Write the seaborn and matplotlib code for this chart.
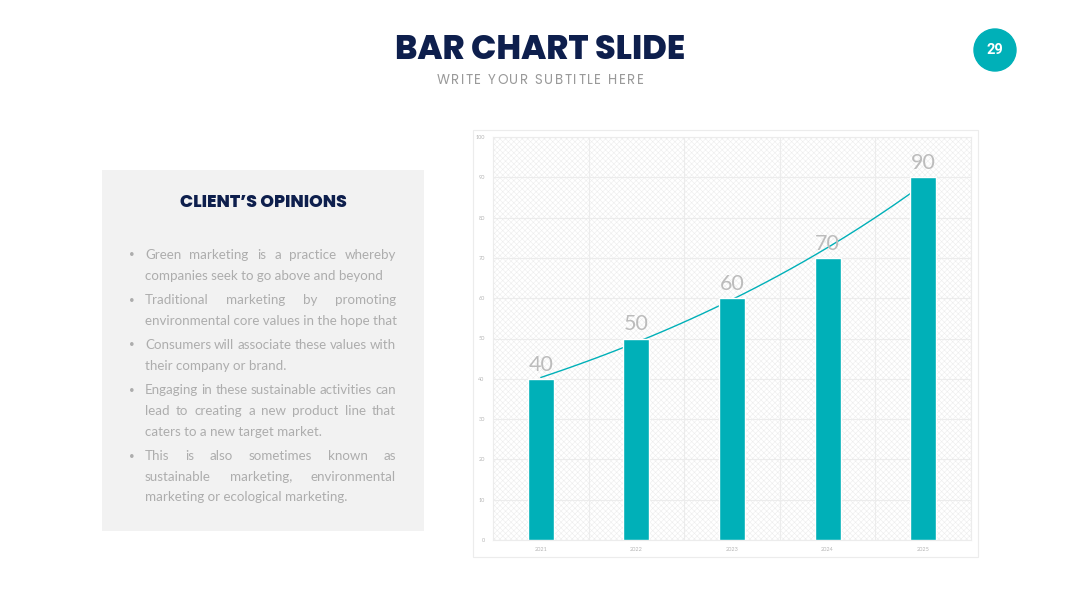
import matplotlib
matplotlib.use("Agg")
import matplotlib.pyplot as plt
import seaborn as sns
import numpy as np
import pandas as pd
from matplotlib.patches import Rectangle, Circle
from matplotlib.ticker import FixedLocator

# ===================== 数据 =====================
years = ["2021", "2022", "2023", "2024", "2025"]
values = [40, 50, 60, 70, 90]
y_ticks = [0, 10, 20, 30, 40, 50, 60, 70, 80, 90, 100]

title = "BAR CHART SLIDE"
subtitle = "WRITE YOUR SUBTITLE HERE"
page_no = "29"
box_title = "CLIENT\u2019S OPINIONS"
# (行文本, 是否两端对齐, 是否段首带圆点)
bullet_lines = [
    ("Green marketing is a practice whereby", True, True),
    ("companies seek to go above and beyond", False, False),
    ("Traditional marketing by promoting", True, True),
    ("environmental core values in the hope that", False, False),
    ("Consumers will associate these values with", True, True),
    ("their company or brand.", False, False),
    ("Engaging in these sustainable activities can", True, True),
    ("lead to creating a new product line that", True, False),
    ("caters to a new target market.", False, False),
    ("This is also sometimes known as", True, True),
    ("sustainable marketing, environmental", True, False),
    ("marketing or ecological marketing.", False, False),
]

TEAL = "#00b0b8"
NAVY = "#0e1f4d"
BODY = "#adadad"
HEAD_FONT = ["Poppins", "Open Sans", "DejaVu Sans"]

sns.set_theme(style="white")
plt.rcParams["font.family"] = ["Lato", "DejaVu Sans"]
plt.rcParams["hatch.linewidth"] = 0.4

fig = plt.figure(figsize=(10.8, 6.08), dpi=100)
fig.patch.set_facecolor("white")

# 背景画布：像素坐标
bg = fig.add_axes([0, 0, 1, 1], zorder=-1)
bg.set_xlim(0, 1080)
bg.set_ylim(608, 0)
bg.axis("off")
renderer = fig.canvas.get_renderer()


def spaced_text(cx, cy, txt, tracking, **kw):
    # 逐字放置，模拟字间距
    objs = [bg.text(0, cy, c, ha="left", va="center", **kw) for c in txt]
    widths = [o.get_window_extent(renderer).width for o in objs]
    total = sum(widths) + tracking * (len(txt) - 1)
    cur = cx - total / 2
    for o, wd in zip(objs, widths):
        o.set_x(cur)
        cur += wd + tracking


# ===================== 标题区 =====================
bg.text(540, 51, title, ha="center", va="center", fontsize=24,
        fontweight="heavy", family=HEAD_FONT, color=NAVY)
spaced_text(540, 80, subtitle, 1.6, fontsize=9.6, color="#9a9a9a", family=HEAD_FONT)
bg.add_patch(Circle((995, 50), 21, color=TEAL))
bg.text(995, 50, page_no, ha="center", va="center", fontsize=10.5,
        fontweight="bold", color="white", family=["Roboto", "DejaVu Sans"])

# ===================== 左侧文本框 =====================
bg.add_patch(Rectangle((102, 170), 322, 361, facecolor="#f2f2f2", edgecolor="none"))
bg.text(263, 203, box_title, ha="center", va="center", fontsize=12.5,
        fontweight="heavy", color=NAVY, family=HEAD_FONT)

left_px, right_px = 145, 396
line_y = [255, 276, 300, 321, 345, 366, 390, 411, 432, 456, 477, 497]
FS = 9.6
for (txt, justify, bullet), py in zip(bullet_lines, line_y):
    if bullet:
        bg.text(132, py, "\u2022", ha="center", va="center", fontsize=7, color=BODY)
    if not justify:
        bg.text(left_px, py, txt, ha="left", va="center", fontsize=FS, color=BODY)
        continue
    words = txt.split()
    objs = [bg.text(0, py, w_, ha="left", va="center", fontsize=FS, color=BODY)
            for w_ in words]
    widths = [o.get_window_extent(renderer).width for o in objs]
    gap = (right_px - left_px - sum(widths)) / (len(words) - 1)
    cur = left_px
    for o, wd in zip(objs, widths):
        o.set_x(cur)
        cur += wd + gap

# ===================== 右侧图表面板 =====================
bg.add_patch(Rectangle((473, 130), 505, 427, facecolor="white",
                       edgecolor="#ececec", lw=0.8))

ax = fig.add_axes([493 / 1080, 1 - 540 / 608, 478 / 1080, 403 / 608], zorder=1)
ax.set_facecolor("none")
ax.add_patch(Rectangle((-0.5, 0), 5, 100, facecolor="white", edgecolor="#ededed",
                       hatch="xxxxxx", lw=0, zorder=0))

df = pd.DataFrame({"year": years, "value": values})
sns.barplot(data=df, x="year", y="value", color=TEAL, width=0.27, saturation=1,
            ax=ax, zorder=3)

# 指数趋势线（由数据拟合）
xs = np.arange(len(values))
coef = np.polyfit(xs, np.log(values), 1)
xt = np.linspace(0, len(values) - 1, 100)
sns.lineplot(x=xt, y=np.exp(np.polyval(coef, xt)), color=TEAL, lw=1.0, ax=ax, zorder=2)

for i, v in enumerate(values):
    ax.text(i, v + 1.0, str(v), ha="center", va="bottom", fontsize=15.5,
            color="#bcbcbc", zorder=4)

ax.set_xlim(-0.5, 4.5)
ax.set_ylim(0, 100)
ax.set_yticks(y_ticks)
ax.set_yticklabels([str(t) for t in y_ticks], fontsize=4, color="#b5b5b5")
ax.xaxis.set_minor_locator(FixedLocator(np.arange(-0.5, 5, 1)))
ax.tick_params(axis="x", labelsize=4, labelcolor="#b5b5b5", length=0, pad=5)
ax.tick_params(axis="y", length=0, pad=6)
ax.grid(True, which="major", axis="y", color="#ececec", lw=0.8, zorder=1)
ax.grid(True, which="minor", axis="x", color="#ececec", lw=0.8, zorder=1)
ax.set_axisbelow(True)
ax.set_xlabel("")
ax.set_ylabel("")
for s in ax.spines.values():
    s.set_color("#ececec")
    s.set_linewidth(0.8)

fig.savefig("out.png", dpi=100)
